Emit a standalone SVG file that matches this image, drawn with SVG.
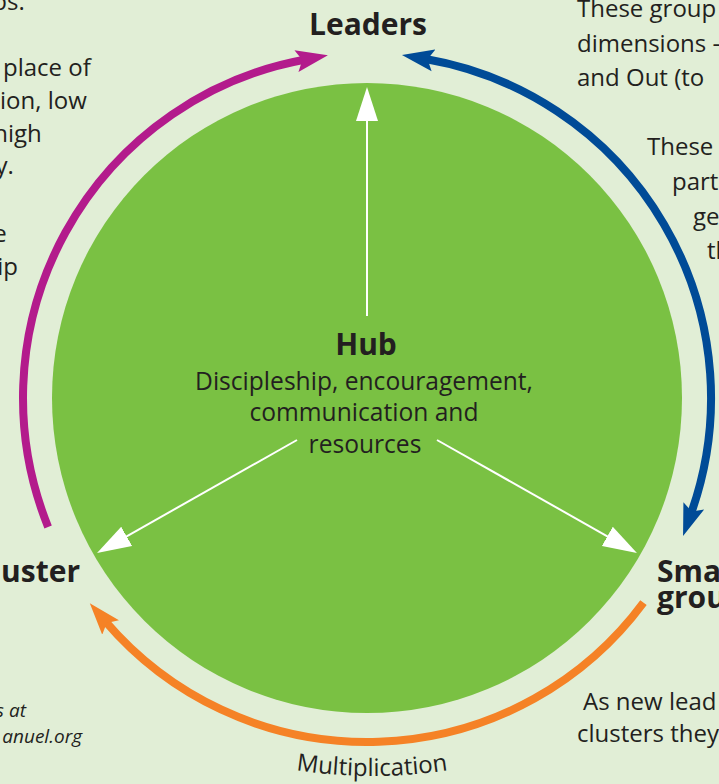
<svg xmlns="http://www.w3.org/2000/svg" width="719" height="784" viewBox="0 0 719 784">
<style>
.t{font-family:"Open Sans","Noto Sans","Liberation Sans",sans-serif;font-size:24px;fill:#231f20}
.h{font-size:24.6px}
.b{font-family:"Open Sans","Noto Sans","Liberation Sans",sans-serif;font-size:30px;font-weight:700;fill:#231f20}
.i{font-family:"Open Sans","Noto Sans","Liberation Sans",sans-serif;font-size:19px;font-style:italic;fill:#231f20}
.arc{fill:none;stroke-width:8}
.wl{stroke:#fff;stroke-width:2;fill:none}
</style>
<defs>
<marker id="hm" markerUnits="userSpaceOnUse" markerWidth="34" markerHeight="24" viewBox="0 -12 34 24" refX="8" refY="0" orient="auto"><path d="M0,-11 L32,0 L0,11 L6,0 Z" fill="#b31b8c"/></marker>
<marker id="hb" markerUnits="userSpaceOnUse" markerWidth="34" markerHeight="24" viewBox="0 -12 34 24" refX="8" refY="0" orient="auto-start-reverse"><path d="M0,-11 L32,0 L0,11 L6,0 Z" fill="#004b97"/></marker>
<marker id="ho" markerUnits="userSpaceOnUse" markerWidth="34" markerHeight="24" viewBox="0 -12 34 24" refX="8" refY="0" orient="auto"><path d="M0,-11 L32,0 L0,11 L6,0 Z" fill="#f58226"/></marker>
<marker id="hw" markerUnits="userSpaceOnUse" markerWidth="36" markerHeight="24" viewBox="0 -12 36 24" refX="2" refY="0" orient="auto"><path d="M0,-11 L34,0 L0,11 Z" fill="#fff"/></marker>
<path id="multPath" d="M220,752.3 A500,500 0 0 0 524,752.3"/>
</defs>
<rect x="0" y="0" width="719" height="784" fill="#e1eed6"/>

<g id="hub">
<circle cx="367" cy="398" r="315" fill="#7ac143"/>
<text class="b" x="366" y="355" text-anchor="middle">Hub</text>
<text class="t h" text-anchor="middle"><tspan x="364" y="390">Discipleship, encouragement,</tspan><tspan x="364" y="421">communication and</tspan><tspan x="365" y="453">resources</tspan></text>
</g>

<g id="connectors">
<path class="arc" stroke="#b31b8c" d="M48.1,526.9 A344,344 0 0 1 304.3,59.7" marker-end="url(#hm)"/>
<path class="arc" stroke="#004b97" d="M425.6,59.0 A344,344 0 0 1 691.1,513.4" marker-start="url(#hb)" marker-end="url(#hb)"/>
<path class="arc" stroke="#f58226" d="M643.5,602.6 A344,344 0 0 1 105.4,621.4" marker-end="url(#ho)"/>
<line class="wl" x1="367" y1="316" x2="367" y2="119" marker-end="url(#hw)"/>
<line class="wl" x1="297" y1="440" x2="124.9" y2="537.3" marker-end="url(#hw)"/>
<line class="wl" x1="437" y1="440" x2="609.1" y2="537.3" marker-end="url(#hw)"/>
<text class="t"><textPath href="#multPath" startOffset="50%" text-anchor="middle">Multiplication</textPath></text>
</g>

<g id="leaders"><text class="b" x="368" y="35" text-anchor="middle">Leaders</text></g>
<g id="cluster"><text class="b" x="80" y="582" text-anchor="end">uster</text></g>
<g id="small-groups"><text class="b"><tspan x="657" y="582">Sma</tspan><tspan x="657" y="608">grou</tspan></text></g>

<g id="left-text">
<text class="t" text-anchor="end">
<tspan x="31" y="10">ps.</tspan>
<tspan x="97" y="76">place of</tspan>
<tspan x="93" y="109">ion, low</tspan>
<tspan x="48" y="142">high</tspan>
<tspan x="20" y="174">ty.</tspan>
<tspan x="13" y="242">e</tspan>
<tspan x="18" y="275">ip</tspan>
</text>
<text class="i" text-anchor="end"><tspan x="26" y="717">s at</tspan><tspan x="82" y="743">anuel.org</tspan></text>
</g>

<g id="right-text">
<text class="t">
<tspan x="577" y="17">These group</tspan>
<tspan x="577" y="52">dimensions -</tspan>
<tspan x="577" y="86">and Out (to</tspan>
<tspan x="647" y="155">These</tspan>
<tspan x="672" y="190">part</tspan>
<tspan x="693" y="225">ge</tspan>
<tspan x="707" y="259">th</tspan>
</text>
<text class="t"><tspan x="583" y="710">As new lead</tspan><tspan x="577" y="742">clusters they</tspan></text>
</g>
</svg>
